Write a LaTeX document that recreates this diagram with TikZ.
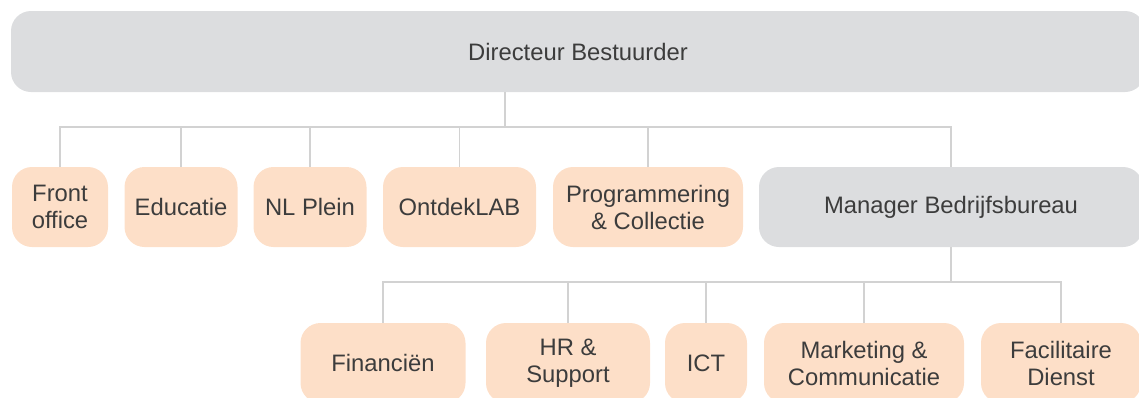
\documentclass[tikz,border=0pt]{standalone}
\usepackage{fontspec}
\setmainfont{Liberation Sans}
\definecolor{headgray}{HTML}{DCDDDF}
\definecolor{unitpeach}{HTML}{FDDFC8}
\definecolor{linkgray}{HTML}{D2D2D2}
\definecolor{labeltext}{HTML}{3C3C3C}
\tikzset{
  box/.style={rounded corners=20pt, inner sep=0pt, align=center, text=labeltext,
    font=\fontsize{23.8}{27}\selectfont, minimum height=80pt},
  headbox/.style={box, fill=headgray},
  unitbox/.style={box, fill=unitpeach},
  link/.style={draw=linkgray, line width=1.3pt}
}
\begin{document}
\begin{tikzpicture}[x=1pt, y=-1pt]
  \useasboundingbox (0,0) rectangle (1139,397);
  \begin{scope}
    \clip (0,0) rectangle (1139,397);
    % director
    \node[headbox, minimum width=1134pt, minimum height=81pt] (dir) at (578,51.5) {Directeur Bestuurder};
    % first level
    \node[unitbox, minimum width=96pt]  (front) at (60,207)    {Front\\office};
    \node[unitbox, minimum width=113pt] (edu)   at (181,207)   {Educatie};
    \node[unitbox, minimum width=113pt] (nl)    at (310,207)   {NL Plein};
    \node[unitbox, minimum width=153pt] (lab)   at (459.5,207) {OntdekLAB};
    \node[unitbox, minimum width=190pt] (prog)  at (648,207)   {Programmering\\\& Collectie};
    \node[headbox, minimum width=384pt] (mgr)   at (951,207)   {Manager Bedrijfsbureau};
    % second level under the manager
    \node[unitbox, minimum width=165pt] (fin)  at (383,363)  {Financiën};
    \node[unitbox, minimum width=164pt] (hr)   at (568,363)  {HR \&\\Support};
    \node[unitbox, minimum width=82pt]  (ict)  at (706,363)  {ICT};
    \node[unitbox, minimum width=200pt] (mark) at (864,363)  {Marketing \&\\Communicatie};
    \node[unitbox, minimum width=160pt] (fac)  at (1061,363) {Facilitaire\\Dienst};
  \end{scope}
  % junctions of the connector buses
  \coordinate (j1) at (505,127);
  \coordinate (j2) at (951,282);
  \draw[link] (dir.south -| j1) -- (j1);
  \foreach \n in {front,edu,nl,lab,prog,mgr}
    \draw[link] (\n.north) |- (j1);
  \draw[link] (mgr.south) -- (j2);
  \foreach \n in {fin,hr,ict,mark,fac}
    \draw[link] (\n.north) |- (j2);
\end{tikzpicture}
\end{document}
